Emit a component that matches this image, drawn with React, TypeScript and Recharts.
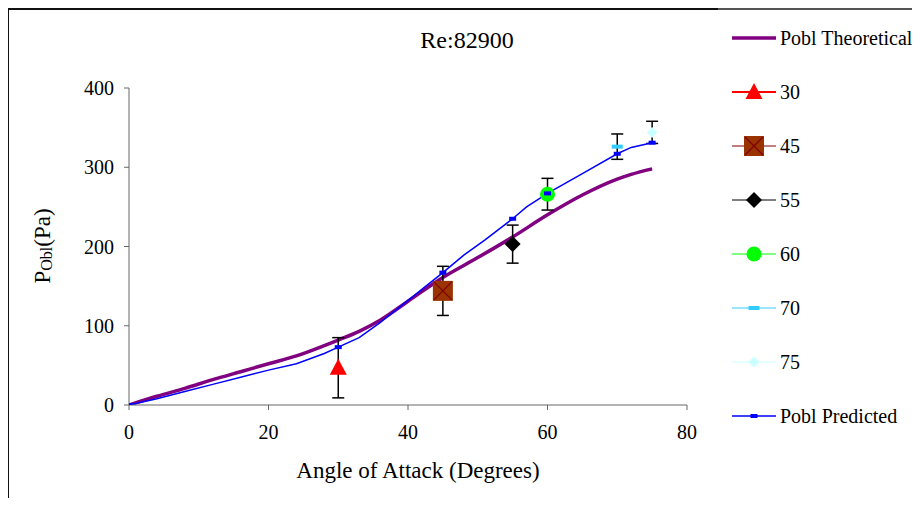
import React from "react";
import {
  ComposedChart,
  Line,
  Scatter,
  ErrorBar,
  XAxis,
  YAxis,
  Legend,
  Customized,
} from "recharts";

// Pobl theoretical curve (purple)
const theoAngle = [0, 4, 8, 12, 16, 20, 24, 28, 30, 33, 36, 40, 45, 50, 55, 60, 65, 70, 72, 75];
const theoP = [0, 11, 21, 32, 42, 52, 62, 75, 82, 93, 107, 131, 161, 186, 212, 240, 265, 285, 291, 298];

// Pobl predicted curve (blue)
const predAngle = [0, 4, 8, 12, 16, 20, 24, 28, 30, 33, 36, 40, 45, 48, 51, 55, 57, 60, 65, 70, 72, 75];
const predP = [0, 8, 17, 26, 35, 44, 52, 65, 73, 85, 104, 132, 167, 189, 208, 235, 250, 267, 292, 317, 325, 331];
const predMarkAngles = [0, 30, 45, 55, 60, 70, 75];

// measured points with error bars
const expNames = ["30", "45", "55", "60", "70", "75"];
const expAngle = [30, 45, 55, 60, 70, 75];
const expP = [47, 144, 203, 266, 326, 344];
const expErr = [38, 31, 24, 20, 16, 14];

const xTicks = [0, 20, 40, 60, 80];
const yTicks = [0, 100, 200, 300, 400];

const FONT = '"Liberation Serif", "Times New Roman", serif';

const theoData = theoAngle.map((x, i) => ({ x, y: theoP[i] }));
const predData = predAngle.map((x, i) => ({ x, y: predP[i] }));
const expData = expAngle.map((x, i) => [{ x, y: expP[i], err: expErr[i] }]);

function Marker({ kind, cx, cy }: { kind: string; cx: number; cy: number }) {
  switch (kind) {
    case "30":
      return (
        <polygon
          points={`${cx},${cy - 9} ${cx + 8.5},${cy + 7} ${cx - 8.5},${cy + 7}`}
          fill="#FF0000"
        />
      );
    case "45":
      return (
        <g>
          <rect x={cx - 10} y={cy - 10} width={20} height={20} fill="#993300" />
          <path
            d={`M${cx - 9},${cy - 9}L${cx + 9},${cy + 9}M${cx + 9},${cy - 9}L${cx - 9},${cy + 9}`}
            stroke="#800000"
            strokeWidth={1.2}
          />
        </g>
      );
    case "55":
      return (
        <polygon
          points={`${cx},${cy - 8} ${cx + 8},${cy} ${cx},${cy + 8} ${cx - 8},${cy}`}
          fill="#000000"
        />
      );
    case "60":
      return <circle cx={cx} cy={cy} r={7.5} fill="#00FF00" />;
    case "70":
      return <rect x={cx - 5.5} y={cy - 2} width={11} height={4} fill="#33CCFF" />;
    case "75":
      return (
        <polygon
          points={`${cx},${cy - 5.5} ${cx + 5.5},${cy} ${cx},${cy + 5.5} ${cx - 5.5},${cy}`}
          fill="#CCFFFF"
        />
      );
    default:
      return <rect x={cx - 3.5} y={cy - 2} width={7} height={4} fill="#0000FF" />;
  }
}

const legendRows = [
  { name: "Pobl Theoretical", kind: "", color: "#800080", w: 3.5 },
  { name: "30", kind: "30", color: "#FF0000", w: 2 },
  { name: "45", kind: "45", color: "#800000", w: 1 },
  { name: "55", kind: "55", color: "#000000", w: 1 },
  { name: "60", kind: "60", color: "#00FF00", w: 1 },
  { name: "70", kind: "70", color: "#33CCFF", w: 1 },
  { name: "75", kind: "75", color: "#CCFFFF", w: 1 },
  { name: "Pobl Predicted", kind: "pred", color: "#0000FF", w: 1.5 },
];

function LegendBox() {
  return (
    <div style={{ fontFamily: FONT, fontSize: 20, color: "#000", whiteSpace: "nowrap" }}>
      {legendRows.map((r) => (
        <div key={r.name} style={{ height: 54, display: "flex", alignItems: "center" }}>
          <svg width={46} height={24} style={{ marginRight: 3 }}>
            <line x1={1} y1={12} x2={45} y2={12} stroke={r.color} strokeWidth={r.w} />
            {r.kind && <Marker kind={r.kind} cx={23} cy={12} />}
          </svg>
          <span>{r.name}</span>
        </div>
      ))}
    </div>
  );
}

function YLabel() {
  return (
    <text
      x={34}
      y={238}
      transform="rotate(-90, 34, 238)"
      textAnchor="middle"
      dominantBaseline="central"
      fontFamily={FONT}
      fontSize={23}
      fill="#000"
    >
      <tspan>P</tspan>
      <tspan fontSize={16} dy={4}>Obl</tspan>
      <tspan dy={-4}>(Pa)</tspan>
    </text>
  );
}

function XLabel() {
  return (
    <text x={410} y={470} textAnchor="middle" fontFamily={FONT} fontSize={23} fill="#000">
      Angle of Attack (Degrees)
    </text>
  );
}

function Title() {
  return (
    <text x={459} y={40} textAnchor="middle" fontFamily={FONT} fontSize={24} fill="#000">
      Re:82900
    </text>
  );
}

export default function App() {
  return (
    <div style={{ position: "relative", width: 912, height: 490 }}>
      <div style={{ position: "absolute", left: -1, top: 0, width: 2, height: 498, background: "#111" }} />
      <div style={{ position: "absolute", left: -1, top: 0, width: 711, height: 2, background: "#111" }} />
      <div style={{ position: "absolute", left: 710, top: 0, width: 202, height: 1.5, background: "#555" }} />
      <ComposedChart
        width={912}
        height={490}
        margin={{ top: 80, right: 233, bottom: 33, left: 0 }}
      >
        <XAxis
          type="number"
          dataKey="x"
          domain={[0, 80]}
          ticks={xTicks}
          interval={0}
          tickSize={5}
          tickMargin={15}
          height={60}
          stroke="#666"
          tick={{ fill: "#000", fontSize: 20, fontFamily: FONT }}
          label={{ content: XLabel }}
          allowDataOverflow
        />
        <YAxis
          type="number"
          domain={[0, 400]}
          ticks={yTicks}
          interval={0}
          width={121}
          tickSize={5}
          tickMargin={10}
          stroke="#666"
          tick={{ fill: "#000", fontSize: 20, fontFamily: FONT }}
          label={{ content: YLabel }}
          allowDataOverflow
        />
        <Line
          data={theoData}
          dataKey="y"
          name="Pobl Theoretical"
          type="monotone"
          stroke="#800080"
          strokeWidth={3.5}
          dot={false}
          isAnimationActive={false}
        />
        {expNames.map((n, i) => (
          <Scatter
            key={n}
            name={n}
            data={expData[i]}
            dataKey="y"
            isAnimationActive={false}
            shape={(p: any) => <Marker kind={n} cx={p.cx} cy={p.cy} />}
          >
            <ErrorBar dataKey="err" direction="y" width={6} stroke="#000" strokeWidth={1.5} />
          </Scatter>
        ))}
        <Line
          data={predData}
          dataKey="y"
          name="Pobl Predicted"
          type="linear"
          stroke="#0000FF"
          strokeWidth={1.5}
          isAnimationActive={false}
          dot={(p: any) =>
            predMarkAngles.includes(p.payload.x) ? (
              <Marker key={`pd-${p.index}`} kind="pred" cx={p.cx} cy={p.cy} />
            ) : (
              <g key={`pd-${p.index}`} />
            )
          }
        />
        <Customized component={Title} />
        <Legend
          layout="horizontal"
          align="center"
          verticalAlign="middle"
          wrapperStyle={{ left: 723, top: 3, width: 190, height: 432 }}
          content={() => <LegendBox />}
        />
      </ComposedChart>
    </div>
  );
}
